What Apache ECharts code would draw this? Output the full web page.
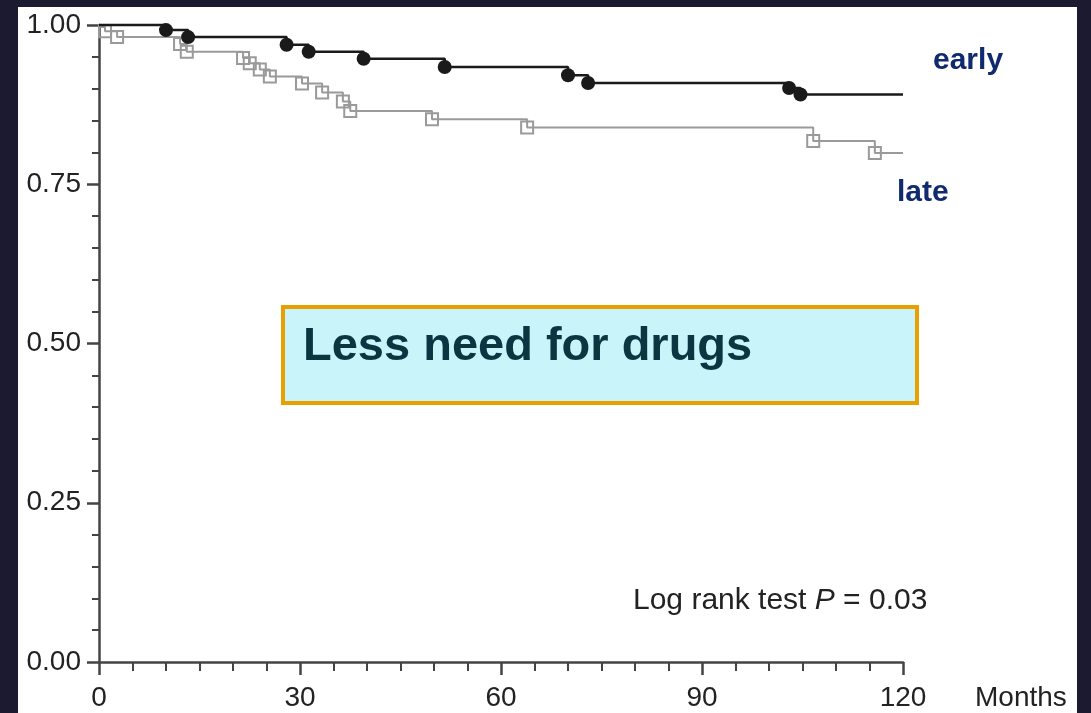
<!DOCTYPE html>
<html>
<head>
<meta charset="utf-8">
<script src="https://cdn.jsdelivr.net/npm/echarts@6/dist/echarts.min.js"></script>
<style>
  html, body { margin: 0; padding: 0; background: #1b1a30; }
  #wrap { position: relative; width: 1091px; height: 713px; background: #1b1a30; overflow: hidden; }
  #panel { position: absolute; left: 18px; top: 7px; width: 1059px; height: 706px; background: #ffffff; }
  #chart { position: absolute; left: 0; top: 0; width: 1091px; height: 713px; }
</style>
</head>
<body>
<div id="wrap">
  <div id="panel"></div>
  <div id="chart"></div>
</div>
<script>
// ---- data ----
const earlyMonths = [0, 10, 13.3, 28, 31.3, 39.5, 51.6, 70, 73, 103, 104.7, 120];
const earlySurv   = [1.0, 0.992, 0.981, 0.969, 0.958, 0.947, 0.934, 0.921, 0.909, 0.901, 0.891, 0.891];

const lateMonths = [0, 0.9, 2.7, 12.1, 13.1, 21.5, 22.5, 24, 25.5, 30.3, 33.3, 36.4, 37.5, 49.7, 63.9, 106.6, 115.8, 120];
const lateSurv   = [0.997, 0.99, 0.981, 0.97, 0.958, 0.948, 0.94, 0.93, 0.919, 0.908, 0.894, 0.88, 0.865, 0.852, 0.839, 0.818, 0.799, 0.799];

const xTicks = [0, 30, 60, 90, 120];
const yTicks = [0, 0.25, 0.5, 0.75, 1.0];

const FONT = "'Liberation Sans', Arial, Helvetica, sans-serif";

function build(months, surv, symbol) {
  return months.map((m, i) => {
    const item = { value: [m, surv[i]] };
    if (i === 0 || i === months.length - 1) item.symbol = 'none';
    else item.symbol = symbol;
    return item;
  });
}

const chart = echarts.init(document.getElementById('chart'), null, { renderer: 'canvas' });
chart.setOption({
  backgroundColor: 'transparent',
  animation: false,
  grid: { left: 99, right: 188, top: 25, bottom: 51, containLabel: false },
  xAxis: {
    type: 'value', min: 0, max: 120, interval: 30,
    axisLine: { show: true, onZero: false, lineStyle: { color: '#444', width: 2.5 } },
    axisTick: { show: true, inside: false, length: 13, lineStyle: { color: '#444', width: 2.5 } },
    minorTick: { show: true, splitNumber: 6, length: 9, lineStyle: { color: '#444', width: 2 } },
    splitLine: { show: false },
    axisLabel: {
      margin: 22, fontSize: 28, color: '#222', fontFamily: FONT,
      formatter: v => (xTicks.indexOf(v) >= 0 ? String(v) : '')
    }
  },
  yAxis: {
    type: 'value', min: 0, max: 1, interval: 0.25,
    axisLine: { show: true, lineStyle: { color: '#444', width: 2.5 } },
    axisTick: { show: true, inside: false, length: 12, lineStyle: { color: '#444', width: 2.5 } },
    minorTick: { show: true, splitNumber: 5, length: 7, lineStyle: { color: '#444', width: 2 } },
    splitLine: { show: false },
    axisLabel: {
      margin: 18, fontSize: 28, color: '#222', fontFamily: FONT,
      formatter: v => v.toFixed(2)
    }
  },
  series: [
    {
      name: 'late', type: 'line', step: 'end', clip: false, z: 2,
      data: build(lateMonths, lateSurv, 'rect'),
      symbolSize: 12,
      lineStyle: { color: '#9a9a9a', width: 2 },
      itemStyle: { color: 'rgba(255,255,255,0)', borderColor: '#9a9a9a', borderWidth: 2 }
    },
    {
      name: 'early', type: 'line', step: 'end', clip: false, z: 3,
      data: build(earlyMonths, earlySurv, 'circle'),
      symbolSize: 14,
      lineStyle: { color: '#1a1a1a', width: 2.5 },
      itemStyle: { color: '#1a1a1a', borderColor: '#1a1a1a', borderWidth: 0 }
    }
  ],
  graphic: [
    { type: 'text', left: 975, top: 684, style: { text: 'Months', font: '28px ' + FONT, fill: '#222' } },
    { type: 'text', left: 933, top: 46, style: { text: 'early', font: 'bold 30px ' + FONT, fill: '#0f2a6e' } },
    { type: 'text', left: 897, top: 178, style: { text: 'late', font: 'bold 30px ' + FONT, fill: '#0f2a6e' } },
    {
      type: 'text', left: 633, top: 586,
      style: {
        text: '{a|Log rank test }{p|P}{a| = 0.03}',
        rich: {
          a: { fontSize: 30, fontFamily: FONT, fill: '#222', color: '#222' },
          p: { fontSize: 30, fontFamily: FONT, fontStyle: 'italic', fill: '#222', color: '#222' }
        }
      }
    },
    {
      type: 'rect', left: 281, top: 305, z: 10,
      shape: { width: 634, height: 96 },
      style: { fill: '#c8f4fa', stroke: '#e8a000', lineWidth: 4 }
    },
    {
      type: 'text', left: 303, top: 324, z: 11,
      style: { text: 'Less need for drugs', font: 'bold 47px ' + FONT, fill: '#0b3540' }
    }
  ]
});
</script>
</body>
</html>
